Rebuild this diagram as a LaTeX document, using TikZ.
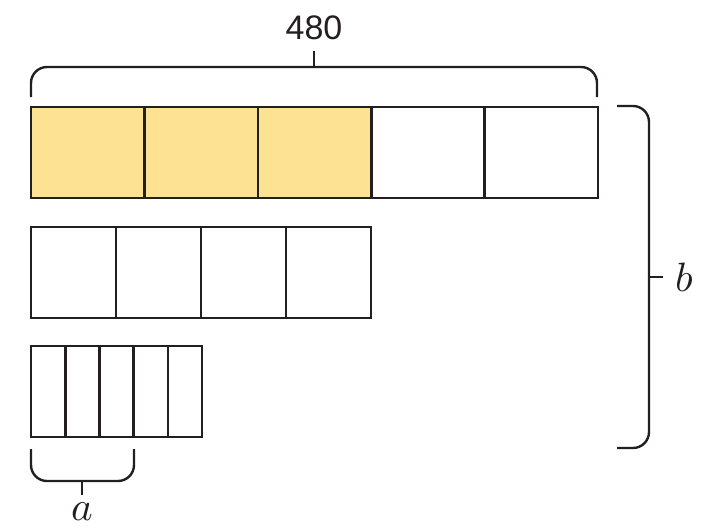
\documentclass[tikz,border=0pt]{standalone}
\usepackage{fontspec}
\setmainfont{Liberation Sans}
\definecolor{ink}{RGB}{35,31,32}
\definecolor{hilite}{RGB}{253,226,148}
\begin{document}
\begin{tikzpicture}[x=1pt,y=-1pt,
  cell/.style={draw=ink,line width=2.6pt,minimum height=91pt,inner sep=0pt,outer sep=0pt,anchor=north west},
  brace/.style={draw=ink,line width=2.4pt,rounded corners=16pt},
  tick/.style={draw=ink,line width=2.4pt},
  numlabel/.style={font=\fontsize{34}{40}\selectfont,text=ink},
  varlabel/.style={font=\normalsize,scale=4.1,text=ink}]
\useasboundingbox (0,0) rectangle (706,528);
% top bar
\foreach \i in {0,1,2} {
  \node[cell,fill=hilite,minimum width=113.4pt] (t\i) at (31+113.4*\i,107) {};
}
\foreach \i in {3,4} {
  \node[cell,minimum width=113.4pt] (t\i) at (31+113.4*\i,107) {};
}
% middle bar
\foreach \i in {0,...,3} {
  \node[cell,minimum width=85pt] (m\i) at (31+85*\i,227) {};
}
% bottom bar
\foreach \i in {0,...,4} {
  \node[cell,minimum width=34.2pt] (s\i) at (31+34.2*\i,346) {};
}
% top brace
\draw[brace] (31,97) -- (31,67) -- (597,67) -- (597,97);
\coordinate (ttop) at (314,67);
\coordinate (ttip) at (314,51);
\draw[tick] (ttop) -- (ttip);
\node[numlabel] (n480) at (314,28) {480};
% right brace
\draw[brace] (617,106) -- (649,106) -- (649,448) -- (617,448);
\coordinate (rmid) at (649,277);
\coordinate (rtip) at (663,277);
\draw[tick] (rmid) -- (rtip);
\node[varlabel] (lb) at (684,277) {$b$};
% bottom brace
\draw[brace] (31,449) -- (31,481) -- (134,481) -- (134,449);
\coordinate (bmid) at (82,481);
\coordinate (btip) at (82,495);
\draw[tick] (bmid) -- (btip);
\node[varlabel] (la) at (82,512) {$a$};
\end{tikzpicture}
\end{document}
